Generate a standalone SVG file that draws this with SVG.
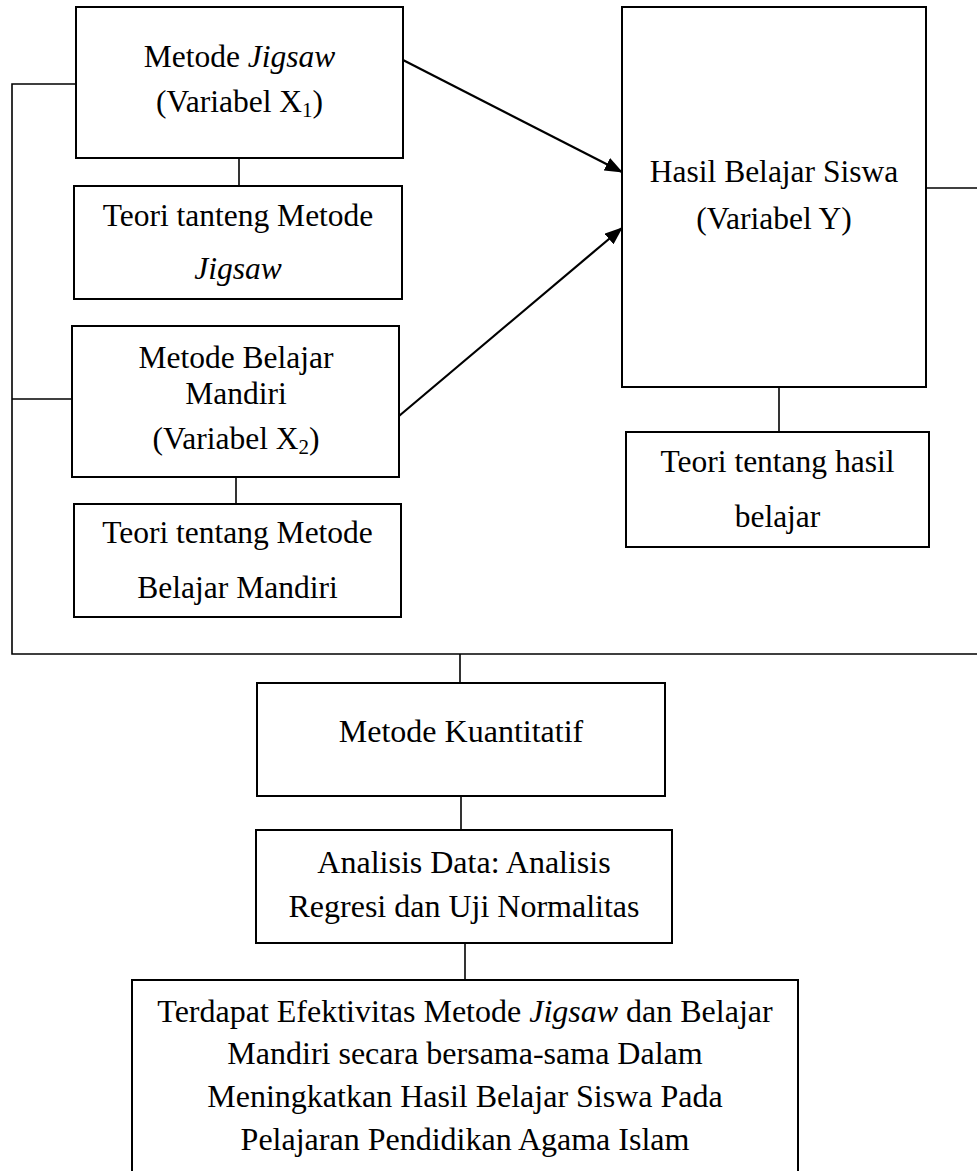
<svg xmlns="http://www.w3.org/2000/svg" width="977" height="1171" viewBox="0 0 977 1171">
<style>
.box{fill:#fff;stroke:#000;stroke-width:2}
.t{font-family:"Liberation Serif","Times New Roman",serif;font-size:31.5px;fill:#000;text-anchor:middle}
.b{font-size:32px}
.i{font-style:italic}
.c{fill:none;stroke:#000;stroke-width:1.6}
.a{fill:none;stroke:#000;stroke-width:2.2}
</style>
<defs>
<marker id="arr" markerUnits="userSpaceOnUse" markerWidth="18" markerHeight="14" refX="17" refY="7" orient="auto">
<path d="M0,0 L18,7 L0,14 Z" fill="#000"/>
</marker>
</defs>
<rect width="977" height="1171" fill="#fff"/>
<g id="connectors">
<polyline class="c" points="76,84 12,84 12,654 977,654"/>
<line class="c" x1="12" y1="399" x2="72" y2="399"/>
<line class="c" x1="239" y1="158" x2="239" y2="186"/>
<line class="c" x1="236" y1="477" x2="236" y2="504"/>
<line class="c" x1="779" y1="387" x2="779" y2="432"/>
<line class="c" x1="926" y1="188" x2="977" y2="188"/>
<line class="c" x1="460" y1="654" x2="460" y2="683"/>
<line class="c" x1="461" y1="796" x2="461" y2="830"/>
<line class="c" x1="465" y1="943" x2="465" y2="980"/>
<line class="a" x1="403" y1="60" x2="622" y2="172" marker-end="url(#arr)"/>
<line class="a" x1="399" y1="416" x2="622" y2="228" marker-end="url(#arr)"/>
</g>
<g id="n-jigsaw">
<rect class="box" x="76" y="7" width="327" height="151"/>
<text class="t" x="239.5" y="67">Metode <tspan class="i">Jigsaw</tspan></text>
<text class="t" x="239.5" y="112">(Variabel X<tspan font-size="21" dy="5">1</tspan><tspan dy="-5">)</tspan></text>
</g>
<g id="n-teori-jigsaw">
<rect class="box" x="74" y="186" width="328" height="113"/>
<text class="t" x="238" y="226">Teori tanteng Metode</text>
<text class="t i" x="238" y="279">Jigsaw</text>
</g>
<g id="n-mandiri">
<rect class="box" x="72" y="326" width="327" height="151"/>
<text class="t" x="236" y="368">Metode Belajar</text>
<text class="t" x="236" y="404">Mandiri</text>
<text class="t" x="236" y="449">(Variabel X<tspan font-size="21" dy="5">2</tspan><tspan dy="-5">)</tspan></text>
</g>
<g id="n-teori-mandiri">
<rect class="box" x="74" y="504" width="327" height="113"/>
<text class="t" x="237.5" y="543">Teori tentang Metode</text>
<text class="t" x="237.5" y="598">Belajar Mandiri</text>
</g>
<g id="n-hasil">
<rect class="box" x="622" y="7" width="304" height="380"/>
<text class="t" x="774" y="182">Hasil Belajar Siswa</text>
<text class="t" x="774" y="229">(Variabel Y)</text>
</g>
<g id="n-teori-hasil">
<rect class="box" x="626" y="432" width="303" height="115"/>
<text class="t" x="777.5" y="472">Teori tentang hasil</text>
<text class="t" x="777.5" y="527">belajar</text>
</g>
<g id="n-kuantitatif">
<rect class="box" x="257" y="683" width="408" height="113"/>
<text class="t b" x="461" y="742">Metode Kuantitatif</text>
</g>
<g id="n-analisis">
<rect class="box" x="256" y="830" width="416" height="113"/>
<text class="t b" x="464" y="873">Analisis Data: Analisis</text>
<text class="t b" x="464" y="917">Regresi dan Uji Normalitas</text>
</g>
<g id="n-kesimpulan">
<rect class="box" x="132" y="980" width="666" height="200"/>
<text class="t b" x="465" y="1022">Terdapat Efektivitas Metode <tspan class="i">Jigsaw</tspan> dan Belajar</text>
<text class="t b" x="465" y="1064">Mandiri secara bersama-sama Dalam</text>
<text class="t b" x="465" y="1107">Meningkatkan Hasil Belajar Siswa Pada</text>
<text class="t b" x="465" y="1150">Pelajaran Pendidikan Agama Islam</text>
</g>
</svg>
